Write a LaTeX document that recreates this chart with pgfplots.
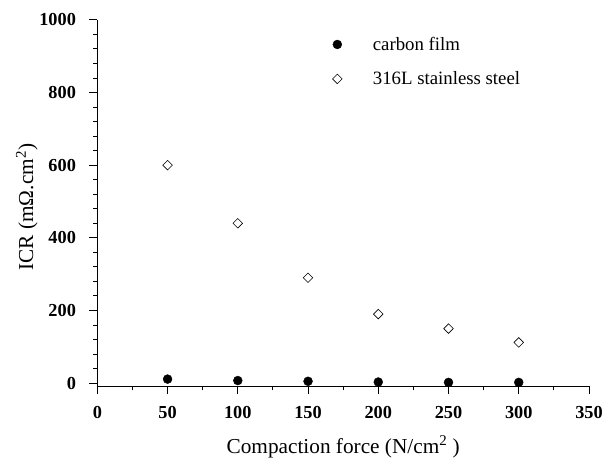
\documentclass[border=0pt]{standalone}
\usepackage{pgfplots}
\pgfplotsset{compat=1.18}
\usepackage{fontspec}
\setmainfont{Liberation Serif}
\begin{document}
\begin{tikzpicture}[x=1bp,y=1bp]
\begin{axis}[
  at={(0,0)}, anchor=south west,
  scale only axis,
  width=495bp, height=369bp,
  xmin=0, xmax=350, ymin=-9, ymax=1000,
  axis x line=bottom, axis y line=left,
  axis line style={-, line width=1pt},
  xtick={0,50,...,350}, ytick={0,200,...,1000},
  minor x tick num=1, minor y tick num=4,
  tick align=outside,
  major tick length=8bp, minor tick length=4bp,
  every tick/.style={black, line width=0.9pt},
  tick label style={font=\fontsize{18.5}{20}\selectfont\bfseries},
  xticklabel style={yshift=-9bp},
  yticklabel style={xshift=-10bp},
  /pgf/number format/assume math mode=true,
  /pgf/number format/1000 sep={},
  label style={font=\fontsize{21.5}{24}\selectfont},
  xlabel={Compaction force (N/cm\textsuperscript{2} )},
  ylabel={ICR (mΩ.cm\textsuperscript{2})},
  xlabel style={at={(axis description cs:0.5,-0.165)}, anchor=center},
  ylabel style={at={(axis description cs:-0.1434,0.489)}, anchor=center},
  legend style={draw=none, fill=none, at={(0.472,0.886)}, anchor=west,
    font=\fontsize{19}{21}\selectfont, row sep=16bp},
  legend cell align=left,
]
\addplot[only marks, mark=*, mark size=4.5bp, black, mark options={fill=black}] coordinates {
(50,11) (100,7) (150,5) (200,3) (250,2) (300,2)};
\addlegendentry{\hspace*{29bp}carbon film}
\addplot[only marks, mark=square, mark size=3.4bp, black, mark options={fill=white, line width=0.6pt, rotate=45}] coordinates {
(50,600) (100,440) (150,290) (200,190) (250,150) (300,112)};
\addlegendentry{\hspace*{29bp}316L stainless steel}
\end{axis}
\path (-98bp,-68bp) rectangle (509bp,389bp);
\end{tikzpicture}
\end{document}
